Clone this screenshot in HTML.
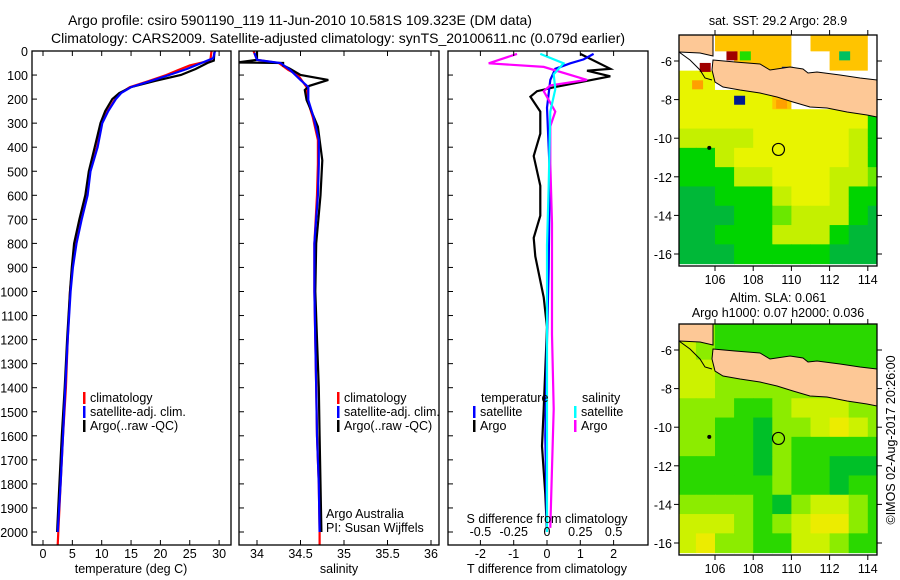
<!DOCTYPE html>
<html><head><meta charset="utf-8"><style>
body{margin:0;background:#fff;}
svg{display:block;font-family:"Liberation Sans",sans-serif;}
</style></head><body>
<svg id="fig" width="900" height="580" viewBox="0 0 900 580" xmlns="http://www.w3.org/2000/svg">
<g font-size="14" text-anchor="middle">
<text x="300" y="25">Argo profile: csiro 5901190_119 11-Jun-2010 10.581S 109.323E (DM data)</text>
<text x="338" y="43">Climatology: CARS2009. Satellite-adjusted climatology: synTS_20100611.nc (0.079d earlier)</text>
</g>
<g id="layer"></g>
</svg>
<script>
// ---- data ----
const tClimDepth=[0,40,60,80,100,125,150,175,200,250,300,400,500,600,700,800,900,1000,1200,1400,1600,1800,2000,2054];
const tClim=[28.7,28.5,25,23,21,18,14.8,13.2,12.3,11,10,9.2,8.0,7.5,6.5,5.6,5.0,4.6,4.2,3.9,3.4,3.0,2.6,2.5];
const tSatDepth=[0,30,50,75,100,125,150,175,200,250,300,400,500,600,700,800,900,1000,1200,1400,1600,1800,2000];
const tSat=[29.3,29.0,27,24.5,21.5,18.3,15.0,13.3,12.4,11.1,10.1,9.3,8.1,7.6,6.6,5.7,5.1,4.7,4.2,3.8,3.4,3.0,2.5];
const tArgoDepth=[5,40,50,75,100,125,150,175,200,250,300,400,500,600,700,800,900,1000,1200,1400,1600,1800,2000];
const tArgo=[29.2,29.1,28,26,23.5,19,15,13,11.8,10.6,9.8,8.8,7.8,7.2,6.2,5.3,4.9,4.6,4.1,3.7,3.2,2.8,2.4];
const sClimDepth=[0,37,50,79,100,150,204,274,370,470,600,800,1000,1200,1400,1600,1800,2000,2054];
const sClim=[33.96,34.0,34.25,34.36,34.47,34.57,34.58,34.64,34.70,34.70,34.69,34.66,34.66,34.67,34.68,34.69,34.71,34.72,34.72];
const sSatDepth=[8,37,50,79,120,150,204,274,370,470,600,800,1000,1200,1400,1600,1800,2000];
const sSat=[33.97,34.0,34.27,34.38,34.5,34.59,34.59,34.65,34.71,34.71,34.70,34.66,34.66,34.67,34.68,34.69,34.71,34.72];
const sArgoDepth=[0,37,48,50,60,74,100,120,145,162,204,245,315,455,600,800,1000,1200,1400,1600,1800,2000];
const sArgo=[34.0,34.0,33.77,34.30,34.30,34.38,34.5,34.82,34.6,34.55,34.57,34.62,34.70,34.75,34.73,34.68,34.67,34.69,34.71,34.72,34.73,34.74];
const dDepthT=[12,74,82,105,151,167,190,252,344,437,560,685,777,854,1024,1148,1488,1643,1843,2000];
const dTArgo=[1.0,1.9,1.2,1.9,0.2,-0.3,-0.5,-0.2,-0.2,-0.4,-0.2,-0.2,-0.4,-0.35,-0.1,0,-0.1,-0.15,-0.05,0];
const dDepthSat=[12,35,51,74,120,236,500,900,1200,1600,2000];
const dTSat=[1.4,1.1,0.7,0.25,0.1,0,0.08,0.05,0,-0.05,0];
const dDepthS=[12,51,66,120,143,167,252,313,468,715,1179,1488,1983];
const dSArgo=[-0.9,-1.75,-0.1,1.2,0.1,-0.1,0.25,0.1,0.1,0.15,0.15,0.2,0.1];
const dDepthSS=[12,51,97,159,252,560,808,1334,2000];
const dSSat=[-0.2,0.5,0.2,0.25,0.1,0.05,0,0,0];
const depthTicks=[0,100,200,300,400,500,600,700,800,900,1000,1100,1200,1300,1400,1500,1600,1700,1800,1900,2000];
const tTicks=[0,5,10,15,20,25,30];
const sTicks=[34,34.5,35,35.5,36];
const dTicks=[-2,-1,0,1,2];
const dTickLabels=["-2","-1","0","1","2"];
const sDiffLabels=["-0.5","-0.25","0","0.25","0.5"];
const latTicks=[-6,-8,-10,-12,-14,-16];
const lonTicks=[106,108,110,112,114];
const sstRows=["ww5555w555w","www555ww55w","44wwwwwwwww","444445wwwww","44444444441","33334444431","11344444431","11133444332","00111344311","00011233310","00111333100","00011111000"];
const slaRows=["22111111111","32111111111","33221111111","33222222111","22211233322","22110223432","22110211111","11110211000","11111211011","22221023321","33321234421","34221133211"];
const argoLon=109.323, argoLat=-10.581;

const NS="http://www.w3.org/2000/svg";
const layer=document.getElementById('layer');
function mk(tag,attrs,parent){const e=document.createElementNS(NS,tag);for(const k in attrs)e.setAttribute(k,attrs[k]);(parent||layer).appendChild(e);return e;}
function txt(x,y,s,attrs,parent){const e=mk('text',Object.assign({x:x,y:y},attrs||{}),parent);e.textContent=s;return e;}

const Y0=51, PY=0.2405, BOT=545;
const yD=d=>Y0+d*PY;
const panels=[{l:32,r:231,x:v=>43+v*5.87},{l:239,r:439,x:v=>257+(v-34)*87},{l:448,r:648,x:v=>547+v*33.3}];
panels.forEach((p,i)=>{
  const g=mk('g',{});
  
  
  p.g=g;
  p.cid='cp'+i;
  const cp=mk('clipPath',{id:'cp'+i},g);
  mk('rect',{x:p.l,y:Y0,width:p.r-p.l,height:BOT-Y0},cp);
});
function line(p,depths,vals,color,name){
  const pts=depths.map((d,i)=>p.x(vals[i]).toFixed(1)+','+yD(d).toFixed(1)).join(' ');
  const e=mk('polyline',{points:pts,fill:'none',stroke:color,'stroke-width':2.2,'clip-path':'url(#'+p.cid+')'},p.g);
  
  
}
const P1=panels[0],P2=panels[1],P3=panels[2];
line(P1,tClimDepth,tClim,'#f00','temp-climatology-line');
line(P1,tArgoDepth,tArgo,'#000','temp-argo-line');
line(P1,tSatDepth,tSat,'#00f','temp-satellite-line');
line(P2,sClimDepth,sClim,'#f00','salinity-climatology-line');
line(P2,sArgoDepth,sArgo,'#000','salinity-argo-line');
line(P2,sSatDepth,sSat,'#00f','salinity-satellite-line');
line(P3,dDepthT,dTArgo,'#000','temp-diff-argo-line');
line(P3,dDepthSat,dTSat,'#00f','temp-diff-satellite-line');
line(P3,dDepthS,dSArgo,'#f0f','sal-diff-argo-line');
line(P3,dDepthSS,dSSat,'#0ff','sal-diff-satellite-line');

panels.forEach((p,i)=>{
  const f=mk('rect',{x:p.l,y:Y0,width:p.r-p.l,height:BOT-Y0,fill:'none',stroke:'#000','stroke-width':1.3},p.g);
  
  
  depthTicks.forEach(d=>{mk('line',{x1:p.l,x2:p.l+5,y1:yD(d),y2:yD(d),stroke:'#000'},p.g);});
});
depthTicks.forEach(d=>{const t=txt(28,yD(d)+5,String(d),{'font-size':12.5,'text-anchor':'end'},P1.g);
 
 });
function xticks(p,ticks,labels,ly){
  ticks.forEach((v,i)=>{const x=p.x(v);
    mk('line',{x1:x,x2:x,y1:BOT,y2:BOT-5,stroke:'#000'},p.g);
    mk('line',{x1:x,x2:x,y1:Y0,y2:Y0+5,stroke:'#000'},p.g);
    const t=txt(x,ly,labels[i],{'font-size':12.5,'text-anchor':'middle'},p.g);
    
    });
}
xticks(P1,tTicks,tTicks.map(String),558);
xticks(P2,sTicks,sTicks.map(String),558);
xticks(P3,dTicks,dTickLabels,558);
dTicks.forEach((v,i)=>{const t=txt(P3.x(v),536,sDiffLabels[i],{'font-size':12.5,'text-anchor':'middle'},P3.g);
 
 });
try{
[[131,573,'temperature (deg C)',P1],[339,573,'salinity',P2],[547,573,'T difference from climatology',P3],[547,523,'S difference from climatology',P3]].forEach(a=>{
 const t=txt(a[0],a[1],a[2],{'font-size':12.5,'text-anchor':'middle'},a[3].g);
 
 });
}catch(e){}
function legend(g,x,y,color,label){
 mk('rect',{x:x,y:y-10,width:2.5,height:12,fill:color},g);
 const t=txt(x+7,y,label,{'font-size':12.5},g);
 
 }
try{
[[P1,83],[P2,337]].forEach(a=>{legend(a[0].g,a[1],402,'#f00','climatology');legend(a[0].g,a[1],416,'#00f','satellite-adj. clim.');legend(a[0].g,a[1],430,'#000','Argo(..raw -QC)');});
txt(481,402,'temperature',{'font-size':12.5},P3.g);
txt(582,402,'salinity',{'font-size':12.5},P3.g);
legend(P3.g,473,416,'#00f','satellite');legend(P3.g,473,430,'#000','Argo');
legend(P3.g,574,416,'#0ff','satellite');legend(P3.g,574,430,'#f0f','Argo');
txt(326,518,'Argo Australia',{'font-size':12.5},P2.g);
txt(326,532,'PI: Susan Wijffels',{'font-size':12.5},P2.g);
}catch(e){}

// ---- maps ----
const sstCol={'0':'#00b838','1':'#00d400','2':'#6ae800','3':'#c4f000','4':'#e8f400','5':'#ffc400','w':'#ffffff'};
const slaCol={'0':'#00c028','1':'#2ad800','2':'#8cec00','3':'#ccf200','4':'#ecec00','w':'#ffffff'};
function drawMap(top,rows,cols,name,isSST){
  const L=679,R=877,B=top+231;
  const lx=lon=>715+(lon-106)*19.1, ly=lat=>top+26+(-6-lat)*19.3;
  const g=mk('g',{});
  
  
  const cp=mk('clipPath',{id:name+'-cp'},g);
  mk('rect',{x:L,y:top,width:R-L,height:B-top},cp);
  const cg=mk('g',{'clip-path':'url(#'+name+'-cp)'},g);
  rows.forEach((row,ri)=>{const lat=-4.5-ri;
    for(let ci=0;ci<row.length;ci++){const lon=104+ci;
      const c=mk('rect',{x:lx(lon),y:ly(lat),width:19.6,height:19.8,fill:cols[row[ci]]},cg);
      
      }});
  if(isSST){
    [[106.6,-5.5,'#a00000'],[107.3,-5.5,'#22dd00'],[107.5,-6.2,'#a00000'],[109,-6.6,'#001a90'],[109.5,-6.3,'#001a90'],[107,-7.8,'#001a90'],[112.5,-5.5,'#00c060'],[105.2,-6.1,'#a00000'],[109.2,-8,'#ffa000'],[104.8,-7,'#ffa000']].forEach(a=>mk('rect',{x:lx(a[0]),y:ly(a[1]),width:11,height:9,fill:a[2]},cg));
  }
  const off=top-35;
  const java=[[713,60],[735,62],[760,64],[770,70],[790,67],[803,69],[808,73],[817,72],[840,75],[860,78],[877,80],[877,117],[867,115],[847,112],[827,108],[810,107],[793,102],[777,97],[760,93],[740,90],[723,87],[715,82],[712,70]];
  const jp=mk('polygon',{points:java.map(p=>p[0]+','+(p[1]+off)).join(' '),fill:'#fdc896',stroke:'#000','stroke-width':1},cg);
  
  
  const sum=[[676,32],[713,32],[713,56],[700,53],[679,52],[676,52]];
  const sp=mk('polygon',{points:sum.map(p=>p[0]+','+(p[1]+off)).join(' '),fill:'#fdc896',stroke:'#000','stroke-width':1},cg);
  
  
  mk('polyline',{points:[[679,52],[690,60],[700,70],[705,78],[712,80]].map(p=>p[0]+','+(p[1]+off)).join(' '),fill:'none',stroke:'#000','stroke-width':1},cg);
  mk('circle',{cx:lx(105.7),cy:ly(-10.5),r:2,fill:'#000'},cg);
  const m=mk('circle',{cx:lx(argoLon),cy:ly(argoLat),r:6,fill:'none',stroke:'#000','stroke-width':1.2},cg);
  
  
  mk('rect',{x:L,y:top,width:R-L,height:B-top,fill:'none',stroke:'#000','stroke-width':1.3},g);
  latTicks.forEach(v=>{const y=ly(v);mk('line',{x1:L-5,x2:L,y1:y,y2:y,stroke:'#000'},g);mk('line',{x1:R,x2:R+5,y1:y,y2:y,stroke:'#000'},g);
    const t=txt(L-7,y+5,String(v),{'font-size':12.5,'text-anchor':'end'},g);
    
    });
  lonTicks.forEach(v=>{const x=lx(v);mk('line',{x1:x,x2:x,y1:B,y2:B+5,stroke:'#000'},g);mk('line',{x1:x,x2:x,y1:top-5,y2:top,stroke:'#000'},g);
    const t=txt(x,B+18,String(v),{'font-size':12.5,'text-anchor':'middle'},g);
    
    });
  return g;
}
try{
const g1=drawMap(35,sstRows,sstCol,'sst-map',true);
txt(778,25,'sat. SST: 29.2 Argo: 28.9',{'font-size':12.5,'text-anchor':'middle'},g1);
}catch(e){}
try{
const g2=drawMap(324,slaRows,slaCol,'sla-map',false);
txt(778,302,'Altim. SLA: 0.061',{'font-size':12.5,'text-anchor':'middle'},g2);
txt(778,317,'Argo h1000: 0.07 h2000: 0.036',{'font-size':12.5,'text-anchor':'middle'},g2);
}catch(e){}
const cr=txt(0,0,'©IMOS 02-Aug-2017 20:26:00',{'font-size':12.5,'text-anchor':'middle',transform:'translate(895,440) rotate(-90)'});


</script>
</body></html>
